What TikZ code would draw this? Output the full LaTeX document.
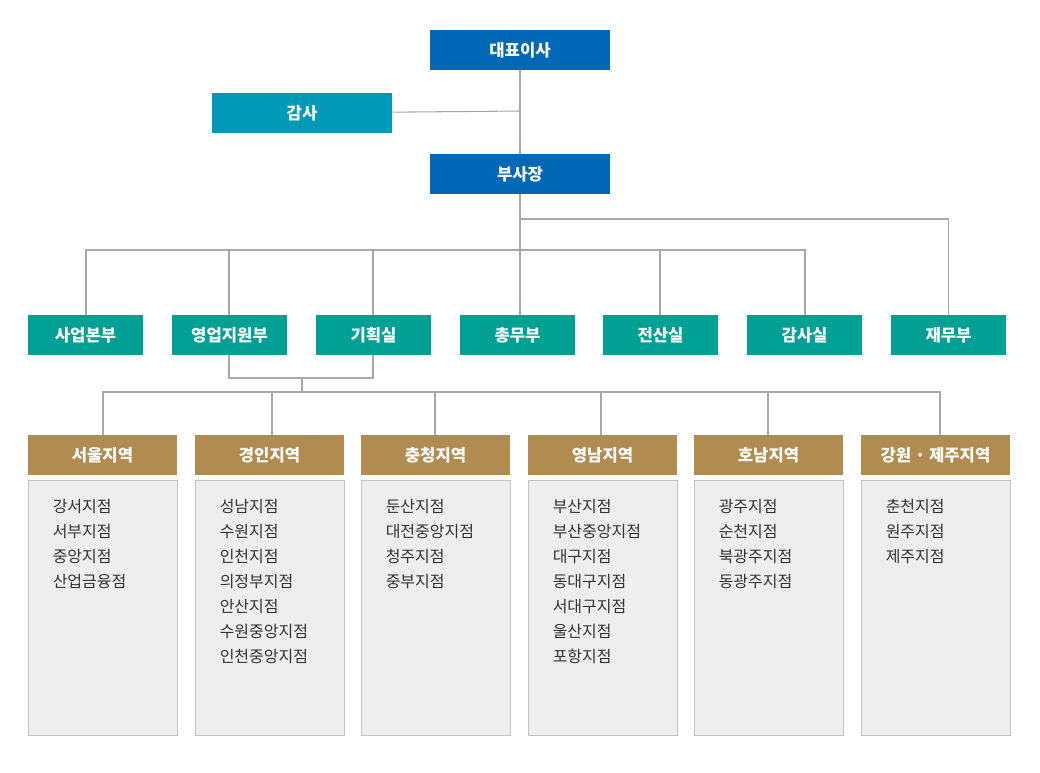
\documentclass[tikz,border=0pt]{standalone}
\usepackage{fontspec}
\setmainfont{Noto Sans CJK KR}
\newfontfamily\krb{Noto Sans CJK KR}[BoldFont=*,FakeBold=1.5]
\definecolor{cblue}{HTML}{0068B7}
\definecolor{cteal}{HTML}{0099B8}
\definecolor{cgreen}{HTML}{00A095}
\definecolor{cbrown}{HTML}{B28B50}
\definecolor{cline}{HTML}{A8A8A8}
\definecolor{cgray}{HTML}{EEEEEE}
\definecolor{cbord}{HTML}{C4C4C4}
\begin{document}
\begin{tikzpicture}[x=0.75pt,y=-0.75pt,
 box/.style={draw=none,minimum height=30pt,inner sep=0pt,text=white,font=\fontsize{12.5}{14}\selectfont\bfseries},
 exec/.style={box,fill=cblue,minimum width=135pt},
 aud/.style={box,fill=cteal,minimum width=135pt},
 dept/.style={box,fill=cgreen,minimum width=86.25pt},
 reg/.style={box,fill=cbrown,minimum width=111.75pt},
 lst/.style={draw=cbord,fill=cgray,minimum width=111.75pt,minimum height=191.25pt,inner sep=0pt},
 txt/.style={anchor=north west,align=left,font=\fontsize{12}{18.75}\selectfont,text=black!80,inner sep=0pt},
 ln/.style={draw=cline,line width=0.8pt}]
\useasboundingbox (0,0) rectangle (1040,772);
\node[exec] (ceo) at (520,50) {대표이사};
\node[aud] (aud) at (302,113) {감사};
\node[exec] (vp) at (520,174) {부사장};
\foreach \n/\x/\t in {d1/85.5/사업본부,d2/229.5/영업지원부,d3/373.5/기획실,d4/517.5/총무부,d5/660.5/전산실,d6/804.5/감사실,d7/948.5/재무부}
  \node[dept] (\n) at (\x,335) {\t};
\coordinate (j1) at (520,111);
\coordinate (j2) at (520,250);
\coordinate (j3) at (520,219);
\draw[ln] (ceo) -- (vp);
\draw[ln] (aud) -- (j1);
\draw[ln] (vp.south) -- (520,315);
\draw[ln] (j3) -| (d7.north);
\draw[ln] (86,315) |- (805,250) -- (805,315);
\draw[ln] (229,250) -- (229,315);
\draw[ln] (373,250) -- (373,315);
\draw[ln] (660,250) -- (660,315);
\coordinate (k) at (302,378);
\draw[ln] (229,355) |- (373,378) -- (373,355);
\draw[ln] (k) -- (302,392);
\draw[ln] (103,435) |- (940,392) -- (940,435);
\foreach \n/\x/\t/\items in {
 r1/102.5/서울지역/{강서지점\\서부지점\\중앙지점\\산업금융점},
 r2/269.5/경인지역/{성남지점\\수원지점\\인천지점\\의정부지점\\안산지점\\수원중앙지점\\인천중앙지점},
 r3/435.5/충청지역/{둔산지점\\대전중앙지점\\청주지점\\중부지점},
 r4/602.5/영남지역/{부산지점\\부산중앙지점\\대구지점\\동대구지점\\서대구지점\\울산지점\\포항지점},
 r5/768.5/호남지역/{광주지점\\순천지점\\북광주지점\\동광주지점},
 r6/935.5/강원 · 제주지역/{춘천지점\\원주지점\\제주지점}}{
 \node[reg] (\n) at (\x,455) {\t};
 \node[lst] (\n b) at (\x,607.5) {};
 \node[txt] (\n t) at (\x-50,499) {\items};
}
\foreach \x in {272,435,601,768}
  \draw[ln] (\x,392) -- (\x,435);
\end{tikzpicture}
\end{document}
